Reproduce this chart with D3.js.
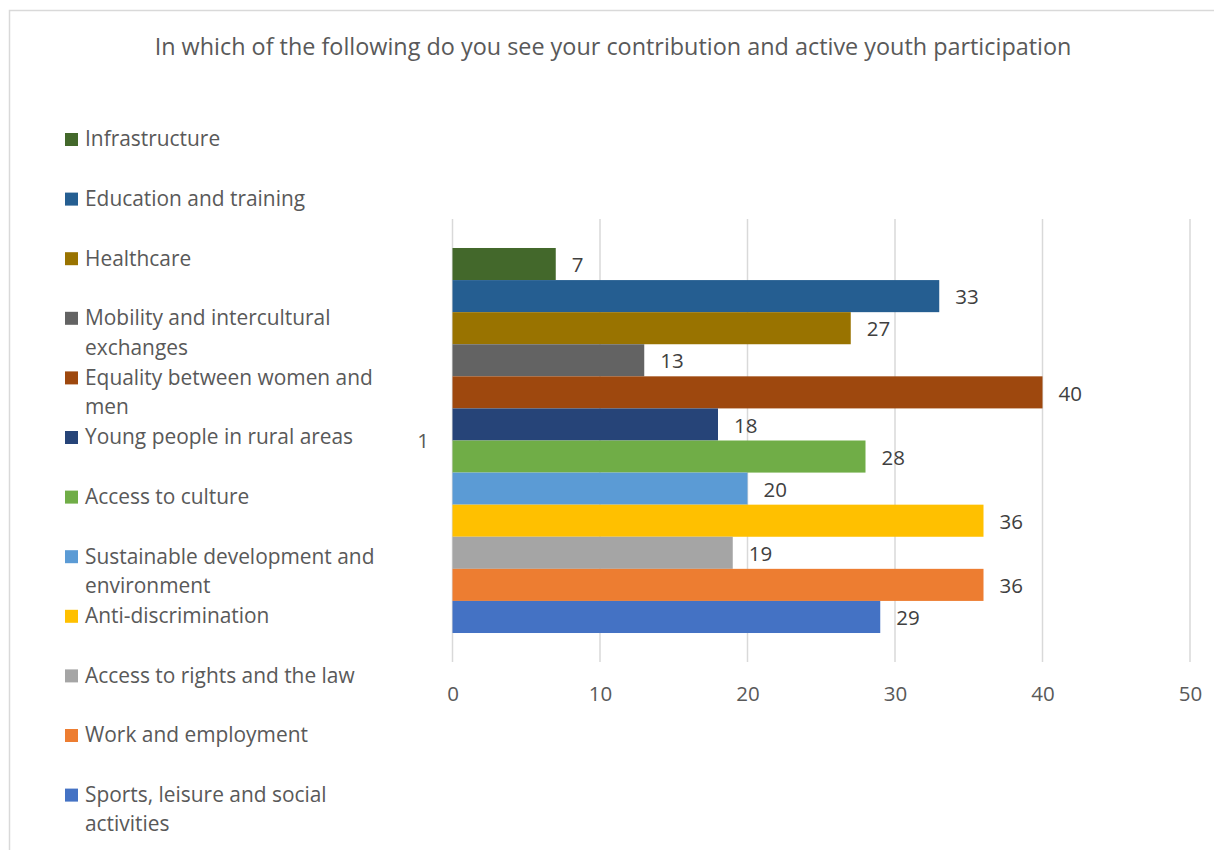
<!DOCTYPE html>
<html>
<head>
<meta charset="utf-8">
<script src="https://cdn.jsdelivr.net/npm/d3@7"></script>
<style>
  html, body { margin: 0; padding: 0; background: #fff; }
  svg { display: block; }
  text { font-family: "Open Sans", "Noto Sans", sans-serif; }
</style>
</head>
<body>
<svg id="chart" width="1214" height="850"></svg>
<script>
// Responses per area, top bar first
const categories = [
  "Infrastructure",
  "Education and training",
  "Healthcare",
  "Mobility and intercultural exchanges",
  "Equality between women and men",
  "Young people in rural areas",
  "Access to culture",
  "Sustainable development and environment",
  "Anti-discrimination",
  "Access to rights and the law",
  "Work and employment",
  "Sports, leisure and social activities"
];
const values = [7, 33, 27, 13, 40, 18, 28, 20, 36, 19, 36, 29];
const colors = ["#43682B", "#255E91", "#997300", "#636363", "#9E480E", "#264478",
                "#70AD47", "#5B9BD5", "#FFC000", "#A5A5A5", "#ED7D31", "#4472C4"];
const xTicks = [0, 10, 20, 30, 40, 50];
const groupLabel = "1";
const title = "In which of the following do you see your contribution and active youth participation";

const svg = d3.select("#chart");

// chart frame
svg.append("rect")
  .attr("x", 9.5).attr("y", 10.5)
  .attr("width", 1240).attr("height", 900)
  .attr("fill", "#fff").attr("stroke", "#d9d9d9").attr("stroke-width", 1.5);

svg.append("text")
  .attr("x", 613).attr("y", 55)
  .attr("text-anchor", "middle")
  .attr("fill", "#595959")
  .attr("font-size", 23.4)
  .text(title);

const plot = { left: 452.5, right: 1190, top: 219, bottom: 662 };

const x = d3.scaleLinear().domain([0, 50]).range([plot.left, plot.right]);
const yGroup = d3.scaleBand().domain([groupLabel]).range([plot.top, plot.bottom]).paddingInner(0).paddingOuter(0.0753);
const y = d3.scaleBand().domain(categories).range([yGroup(groupLabel), yGroup(groupLabel) + yGroup.bandwidth()]);

// vertical gridlines
svg.append("g")
  .selectAll("line")
  .data(xTicks)
  .join("line")
  .attr("x1", d => x(d)).attr("x2", d => x(d))
  .attr("y1", plot.top).attr("y2", plot.bottom)
  .attr("stroke", "#d9d9d9").attr("stroke-width", 1.5);

// x axis tick labels
const xAxis = d3.axisBottom(x).tickValues(xTicks).tickSize(0).tickPadding(0);
const gx = svg.append("g").attr("transform", `translate(0,${plot.bottom + 39})`).call(xAxis);
gx.select(".domain").remove();
gx.selectAll("text")
  .attr("fill", "#595959")
  .attr("font-size", 20.5)
  .attr("font-family", "'Open Sans', sans-serif")
  .attr("dy", "0");

// category label
svg.append("text")
  .attr("x", 423).attr("y", 448)
  .attr("text-anchor", "middle")
  .attr("fill", "#595959")
  .attr("font-size", 20.5)
  .text(groupLabel);

// bars
svg.append("g")
  .selectAll("rect")
  .data(categories)
  .join("rect")
  .attr("x", x(0))
  .attr("y", d => y(d))
  .attr("width", (d, i) => x(values[i]) - x(0))
  .attr("height", y.bandwidth())
  .attr("fill", (d, i) => colors[i]);

// value labels
svg.append("g")
  .selectAll("text")
  .data(categories)
  .join("text")
  .attr("x", (d, i) => x(values[i]) + 16)
  .attr("y", d => y(d) + y.bandwidth() / 2 + 1)
  .attr("dy", "0.35em")
  .attr("fill", "#404040")
  .attr("font-size", 20.5)
  .text((d, i) => values[i]);

// legend
const legend = svg.append("g");
const legendTop = 139, legendStep = 59.6, lineH = 29.5, wrapWidth = 310;
categories.forEach((c, i) => {
  const cy = legendTop + i * legendStep;
  legend.append("rect")
    .attr("x", 65).attr("y", cy - 6)
    .attr("width", 13).attr("height", 13)
    .attr("fill", colors[i]);
  const t = legend.append("text")
    .attr("x", 85).attr("y", cy)
    .attr("dy", "0.35em")
    .attr("fill", "#595959")
    .attr("font-size", 20.9);
  const words = c.split(" ");
  let line = [];
  let tspan = t.append("tspan").attr("x", 85);
  words.forEach(w => {
    line.push(w);
    tspan.text(line.join(" "));
    if (tspan.node().getComputedTextLength() > wrapWidth && line.length > 1) {
      line.pop();
      tspan.text(line.join(" "));
      line = [w];
      tspan = t.append("tspan").attr("x", 85).attr("dy", lineH).text(w);
    }
  });
});
</script>
</body>
</html>
